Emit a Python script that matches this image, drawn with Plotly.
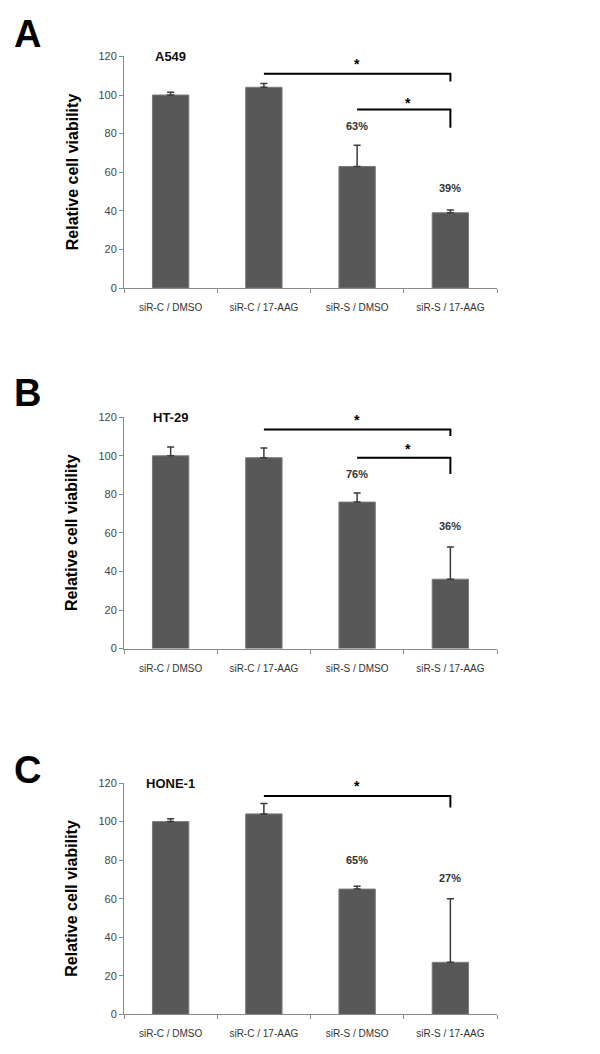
import plotly.graph_objects as go

categories = ["siR-C / DMSO", "siR-C / 17-AAG", "siR-S / DMSO", "siR-S / 17-AAG"]
y_ticks = [0, 20, 40, 60, 80, 100, 120]

panel_letters = ["A", "B", "C"]
cell_lines = ["A549", "HT-29", "HONE-1"]

a_vals = [100, 104, 63, 39]
a_err = [1.5, 2, 11, 1.5]
b_vals = [100, 99, 76, 36]
b_err = [4.6, 5, 4.7, 16.7]
c_vals = [100, 104, 65, 27]
c_err = [1.5, 5.4, 1.5, 33]

a_pct = [("63%", 2, 84), ("39%", 3, 52)]
b_pct = [("76%", 2, 90.5), ("36%", 3, 63.7)]
c_pct = [("65%", 2, 80), ("27%", 3, 70.6)]

# brackets: (x_start, x_end, y_horizontal, y_drop_end, star_x, star_y)
a_brackets = [(1, 3, 111, 107, 2.0, 116), (2, 3, 92.5, 83, 2.55, 96)]
b_brackets = [(1, 3, 113.7, 110.3, 2.0, 118.5), (2, 3, 99, 90.6, 2.55, 103.4)]
c_brackets = [(1, 3, 113.3, 107.3, 2.0, 118.6)]

W, H = 600, 1054
FONT = "Liberation Sans, Arial, sans-serif"

# pixel geometry -> paper domains
x_left, x_right = 124, 497
panels_px = [(51, 285.3), (416, 650), (786, 1020)]  # (top of 120, bottom of 0)
letter_px = [(27, 28), (27, 391), (27, 773)]

values = [a_vals, b_vals, c_vals]
errors = [a_err, b_err, c_err]
pcts = [a_pct, b_pct, c_pct]
brackets = [a_brackets, b_brackets, c_brackets]

fig = go.Figure()
annotations = []
shapes = []

for i in range(3):
    xa = "x" if i == 0 else f"x{i+1}"
    ya = "y" if i == 0 else f"y{i+1}"
    top, bot = panels_px[i]
    fig.add_trace(go.Bar(
        x=categories, y=values[i], xaxis=xa, yaxis=ya,
        marker=dict(color="#585858", line=dict(color="#7a7a7a", width=1)),
        width=0.39,
        error_y=dict(type="data", symmetric=False, array=errors[i],
                     arrayminus=[0] * 4, color="#3a3a3a", thickness=1.5, width=3.5),
        showlegend=False, hoverinfo="skip",
    ))
    xkey = "xaxis" if i == 0 else f"xaxis{i+1}"
    ykey = "yaxis" if i == 0 else f"yaxis{i+1}"
    fig.update_layout(**{
        xkey: dict(domain=[x_left / W, x_right / W], anchor=ya, type="category",
                   range=[-0.5, 3.5], showline=True, linecolor="#8a8a8a", linewidth=1,
                   ticks="outside", tickson="boundaries", ticklen=4, tickcolor="#8a8a8a",
                   tickfont=dict(family=FONT, size=10, color="#333333"),
                   ticklabelstandoff=10,
                   showgrid=False, zeroline=False, fixedrange=True),
        ykey: dict(domain=[(H - bot) / H, (H - top) / H], anchor=xa,
                   range=[0, 120], tickvals=y_ticks, showline=True,
                   linecolor="#8a8a8a", linewidth=1, ticks="outside", ticklen=4,
                   tickcolor="#8a8a8a",
                   tickfont=dict(family=FONT, size=11, color="#444444"),
                   showgrid=False, zeroline=False, fixedrange=True),
    })
    # panel letter
    lx, ly = letter_px[i]
    annotations.append(dict(text=f"<b>{panel_letters[i]}</b>", x=lx / W, y=(H - ly) / H,
                            xref="paper", yref="paper", showarrow=False,
                            font=dict(family=FONT, size=38, color="#000000"),
                            xanchor="center", yanchor="middle"))
    # y title
    annotations.append(dict(text="<b>Relative cell viability</b>", x=72 / W,
                            y=(H - (top + bot) / 2) / H, xref="paper", yref="paper",
                            textangle=-90, showarrow=False,
                            font=dict(family=FONT, size=16, color="#000000"),
                            xanchor="center", yanchor="middle"))
    # cell line name
    annotations.append(dict(text=f"<b>{cell_lines[i]}</b>", x=0, y=120, xref=xa, yref=ya,
                            showarrow=False, font=dict(family=FONT, size=13, color="#111111"),
                            xanchor="center", yanchor="middle"))
    # percentages
    for txt, cx, cy in pcts[i]:
        annotations.append(dict(text=f"<b>{txt}</b>", x=cx, y=cy, xref=xa, yref=ya,
                                showarrow=False,
                                font=dict(family=FONT, size=11, color="#333333"),
                                xanchor="center", yanchor="middle"))
    # brackets
    for x0, x1, yh, yd, sx, sy in brackets[i]:
        shapes.append(dict(type="path", xref=xa, yref=ya,
                           path=f"M {x0},{yh} L {x1},{yh} L {x1},{yd}",
                           line=dict(color="#000000", width=2)))
        annotations.append(dict(text="<b>*</b>", x=sx, y=sy, xref=xa, yref=ya,
                                showarrow=False,
                                font=dict(family=FONT, size=14, color="#000000"),
                                xanchor="center", yanchor="middle"))

fig.update_layout(
    width=W, height=H, margin=dict(l=0, r=0, t=0, b=0),
    paper_bgcolor="#ffffff", plot_bgcolor="#ffffff",
    annotations=annotations, shapes=shapes, bargap=0.61,
)

fig.write_html("out.html", config={"displayModeBar": False},
               post_script="document.body.style.margin='0';document.body.style.overflow='hidden';")
